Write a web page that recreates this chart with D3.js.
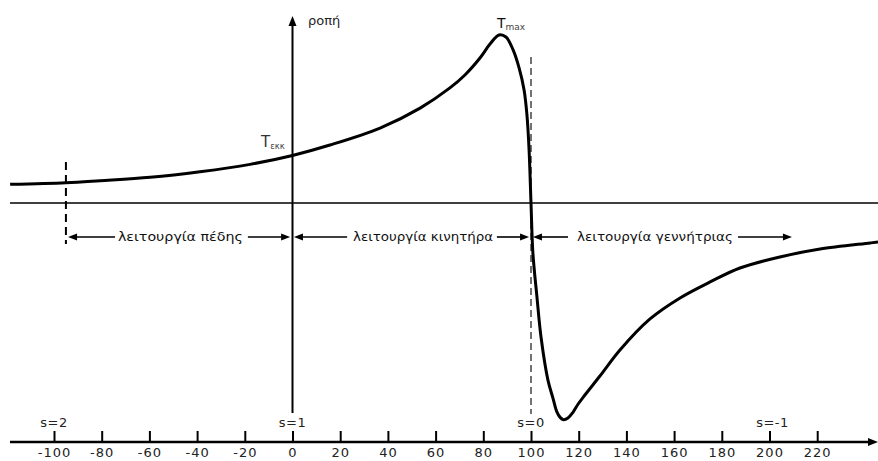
<!DOCTYPE html>
<html><head><meta charset="utf-8">
<script src="https://cdn.jsdelivr.net/npm/d3@7"></script>
<style>
body{margin:0;background:#fff}
svg{display:block}
text{font-family:"DejaVu Sans",sans-serif}
</style>
</head><body>
<svg id="c" width="878" height="461"></svg>
<script>
// speed axis values (n %), torque values (Tmax = 100)
const speed = [-118.4, -95.0, -80.7, -59.7, -38.8, -17.8, 0, 15.7, 36.7, 53.5, 66.0, 72.3, 78.6, 82.8, 86.6, 89.5, 92.5, 95.0, 97.1, 98.3, 99.2, 100, 100.8, 102.5, 104.2, 107.1, 109.2, 110.9, 112.2, 113.6, 115.5, 117.6, 119.7, 122.6, 128.9, 137.3, 149.9, 162.5, 175.1, 187.6, 204.4, 221.2, 242.2, 245.5];
const torque = [11.1, 12.1, 13.3, 15.3, 18.6, 23.0, 28.3, 34.5, 44.6, 56.5, 68.5, 76.2, 86.3, 94.6, 100, 98.8, 91.1, 80.4, 67.3, 52.4, 31.5, 0, -29.8, -56.0, -79.8, -105.4, -116.1, -124.5, -127.6, -129.0, -128.0, -124.6, -119.8, -114.3, -103.0, -87.5, -69.0, -56.5, -47.0, -38.7, -32.1, -27.4, -23.8, -23.2];
const xTicks = [-100, -80, -60, -40, -20, 0, 20, 40, 60, 80, 100, 120, 140, 160, 180, 200, 220];
const slipLabels = ["s=2", "s=1", "s=0", "s=-1"];
const slipAt = [-100, 0, 100, 200];
const regionLabels = ["λειτουργία πέδης", "λειτουργία κινητήρα", "λειτουργία γεννήτριας"];
const yAxisLabel = "ροπή";
const brakeLimit = -95.0;

const svg = d3.select("#c");
const x = d3.scaleLinear().domain([0, 100]).range([292.5, 531]);
const y = d3.scaleLinear().domain([0, 100]).range([203, 35]);
const X0 = x(0), Y0 = y(0);
const axisY = 442;

function head(tx, ty, dir, len, hw) {
  let pts;
  if (dir === 'r') pts = [[tx, ty], [tx - len, ty - hw], [tx - len, ty + hw]];
  else if (dir === 'l') pts = [[tx, ty], [tx + len, ty - hw], [tx + len, ty + hw]];
  else pts = [[tx, ty], [tx - hw, ty + len], [tx + hw, ty + len]];
  svg.append("polygon").attr("points", pts.map(p => p.join(",")).join(" ")).attr("fill", "#000");
}

// zero torque line
svg.append("line").attr("x1", 10).attr("x2", 878).attr("y1", Y0).attr("y2", Y0)
  .attr("stroke", "#000").attr("stroke-width", 1.6);

// vertical torque axis
svg.append("line").attr("x1", X0).attr("x2", X0).attr("y1", 413).attr("y2", 24)
  .attr("stroke", "#000").attr("stroke-width", 2);
head(X0, 16, 'u', 10, 4);
svg.append("text").attr("x", 308).attr("y", 25).attr("font-size", 13).attr("fill", "#222").text(yAxisLabel);

// bottom axis
const ax = svg.append("g").attr("transform", `translate(0,${axisY})`)
  .call(d3.axisBottom(x).tickValues(xTicks).tickFormat(d => String(d))
    .tickSizeInner(-11).tickSizeOuter(0).tickPadding(6));
ax.select(".domain").remove();
ax.selectAll(".tick line").attr("stroke", "#000").attr("stroke-width", 2);
ax.selectAll(".tick text").attr("font-family", "DejaVu Sans").attr("font-size", 13)
  .attr("letter-spacing", 1).attr("fill", "#222");
svg.append("line").attr("x1", 10).attr("x2", 870).attr("y1", axisY).attr("y2", axisY)
  .attr("stroke", "#000").attr("stroke-width", 2.5);
head(878, axisY, 'r', 10, 4);

// slip labels
svg.selectAll("text.slip").data(slipLabels).enter().append("text").attr("class", "slip")
  .attr("x", (d, i) => x(slipAt[i]) + (i === 3 ? 3 : 0)).attr("y", 427)
  .attr("text-anchor", "middle").attr("font-size", 13).attr("letter-spacing", 0.5).attr("fill", "#222").text(d => d);

// dashed lines
svg.append("line").attr("x1", x(brakeLimit)).attr("x2", x(brakeLimit)).attr("y1", 162).attr("y2", 244)
  .attr("stroke", "#000").attr("stroke-width", 2).attr("stroke-dasharray", "8,5");
svg.append("line").attr("x1", x(100)).attr("x2", x(100)).attr("y1", 57).attr("y2", 414)
  .attr("stroke", "#444").attr("stroke-width", 1.5).attr("stroke-dasharray", "7,4");

// region annotations (in speed units)
const rowY = 237;
const segs = [
  {lt: -94.1, l0: -74.4, t0: -73.2, t1: -20.8, r0: -18.7, rt: -1.0},
  {lt: 0.6, l0: 22.9, t0: 25.4, t1: 84.1, r0: 85.7, rt: 99.2},
  {lt: 100.8, l0: 115.5, t0: 119.3, t1: 184.7, r0: 186.8, rt: 209.4}
];
segs.forEach((s, i) => {
  svg.append("line").attr("x1", x(s.lt) + 6).attr("x2", x(s.l0)).attr("y1", rowY).attr("y2", rowY)
    .attr("stroke", "#000").attr("stroke-width", 1.6);
  head(x(s.lt), rowY, 'l', 9, 3.5);
  svg.append("line").attr("x1", x(s.r0)).attr("x2", x(s.rt) - 6).attr("y1", rowY).attr("y2", rowY)
    .attr("stroke", "#000").attr("stroke-width", 1.6);
  head(x(s.rt), rowY, 'r', 9, 3.5);
  svg.append("text").attr("x", x(s.t0)).attr("y", 241).attr("font-size", 13).attr("fill", "#111")
    .attr("textLength", x(s.t1) - x(s.t0)).attr("lengthAdjust", "spacingAndGlyphs").text(regionLabels[i]);
});

// curve
const pts = speed.map((s, i) => [s, torque[i]]);
svg.append("path").datum(pts)
  .attr("d", d3.line().x(d => x(d[0])).y(d => y(d[1])).curve(d3.curveCatmullRom.alpha(0.5)))
  .attr("fill", "none").attr("stroke", "#000").attr("stroke-width", 3).attr("stroke-linejoin", "round");

// T labels
const tmax = svg.append("text").attr("x", 497).attr("y", 28).attr("fill", "#111");
tmax.append("tspan").attr("font-size", 14).text("T");
tmax.append("tspan").attr("font-size", 9).attr("dy", 2).attr("fill", "#444").text("max");
const tek = svg.append("text").attr("x", 261).attr("y", 147).attr("fill", "#333");
tek.append("tspan").attr("font-size", 15).text("T");
tek.append("tspan").attr("font-size", 8.5).attr("dy", 1.5).attr("fill", "#444").text("εκκ");
</script>
</body></html>
